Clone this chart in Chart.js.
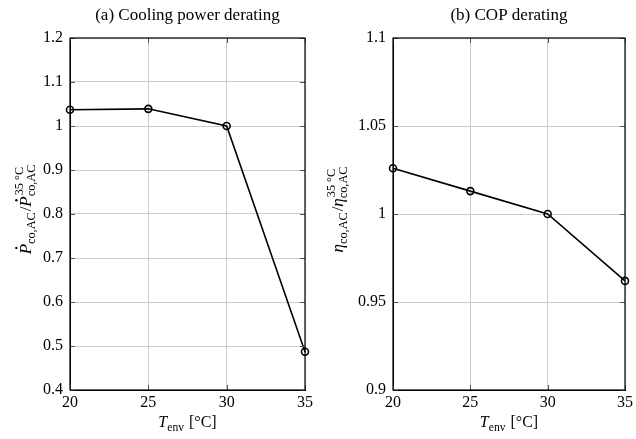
<!DOCTYPE html>
<html>
<head>
<meta charset="utf-8">
<script src="https://cdn.jsdelivr.net/npm/chart.js@4"></script>
<style>
body{margin:0;background:#fff;}
.wrap{position:absolute;top:0;width:318px;height:439px;}
</style>
</head>
<body>
<div class="wrap" style="left:0"><canvas id="powerChart" width="318" height="439"></canvas></div>
<div class="wrap" style="left:318px"><canvas id="copChart" width="318" height="439"></canvas></div>
<script>
// ambient temperature steps
const tempC = [20, 25, 30, 35];
// cooling power relative to 35 °C reference
const coolingPowerRatio = [1.037, 1.039, 1.0, 0.487];
// COP relative to 35 °C reference
const copRatio = [1.026, 1.013, 1.0, 0.962];

const xTicks = [20, 25, 30, 35];
const yTicksPower = [0.4, 0.5, 0.6, 0.7, 0.8, 0.9, 1.0, 1.1, 1.2];
const yTicksCop = [0.9, 0.95, 1.0, 1.05, 1.1];

const FONT = "'Liberation Serif', 'DejaVu Serif', serif";

// draw a run of text pieces: {t, i, dot} or {sub, sup}
function richWidth(ctx, parts, size) {
  let w = 0;
  parts.forEach(p => {
    if (p.t !== undefined) {
      ctx.font = (p.i ? "italic " : "") + size + "px " + FONT;
      w += ctx.measureText(p.t).width;
    } else {
      ctx.font = (size * 0.72) + "px " + FONT;
      const a = p.sub ? ctx.measureText(p.sub).width : 0;
      const b = p.sup ? ctx.measureText(p.sup).width : 0;
      w += Math.max(a, b) + 1;
    }
  });
  return w;
}

function drawRich(ctx, parts, cx, baseY, size) {
  let x = cx - richWidth(ctx, parts, size) / 2;
  ctx.fillStyle = "#000";
  ctx.textBaseline = "alphabetic";
  ctx.textAlign = "left";
  parts.forEach(p => {
    if (p.t !== undefined) {
      ctx.font = (p.i ? "italic " : "") + size + "px " + FONT;
      const w = ctx.measureText(p.t).width;
      ctx.fillText(p.t, x, baseY);
      if (p.dot) {
        ctx.beginPath();
        ctx.arc(x + w * 0.62, baseY - size * 0.86, size * 0.07, 0, Math.PI * 2);
        ctx.fill();
      }
      x += w;
    } else {
      const s = size * 0.72;
      ctx.font = s + "px " + FONT;
      const a = p.sub ? ctx.measureText(p.sub).width : 0;
      const b = p.sup ? ctx.measureText(p.sup).width : 0;
      if (p.sub) ctx.fillText(p.sub, x, baseY + size * 0.25);
      if (p.sup) ctx.fillText(p.sup, x + 1, baseY - size * 0.45);
      x += Math.max(a, b) + 1;
    }
  });
}

const frame = {
  id: "frame",
  afterDraw(chart, args, opts) {
    const ctx = chart.ctx;
    const a = chart.chartArea;
    ctx.save();
    // inward tick marks on all four sides
    ctx.strokeStyle = "#555";
    ctx.lineWidth = 1;
    chart.scales.y.ticks.forEach(t => {
      const y = Math.round(chart.scales.y.getPixelForValue(t.value)) + 0.5;
      ctx.beginPath();
      ctx.moveTo(a.left, y); ctx.lineTo(a.left + 5, y);
      ctx.moveTo(a.right, y); ctx.lineTo(a.right - 5, y);
      ctx.stroke();
    });
    chart.scales.x.ticks.forEach(t => {
      const x = Math.round(chart.scales.x.getPixelForValue(t.value)) + 0.5;
      ctx.beginPath();
      ctx.moveTo(x, a.bottom); ctx.lineTo(x, a.bottom - 5);
      ctx.moveTo(x, a.top); ctx.lineTo(x, a.top + 5);
      ctx.stroke();
    });
    ctx.strokeStyle = "#000";
    ctx.lineWidth = 1.2;
    ctx.strokeRect(a.left, a.top, a.right - a.left, a.bottom - a.top);
    // title and axis labels
    const cx = (a.left + a.right) / 2;
    ctx.font = "17px " + FONT;
    ctx.fillStyle = "#000";
    ctx.textAlign = "center";
    ctx.textBaseline = "alphabetic";
    ctx.fillText(opts.title, cx, 20);
    drawRich(ctx, [{t: "T", i: true}, {sub: "env"}, {t: " [°C]"}], cx, 427, 16);
    ctx.translate(opts.yLabelX, (a.top + a.bottom) / 2 - 5);
    ctx.rotate(-Math.PI / 2);
    drawRich(ctx, opts.yLabel, 0, 0, 17);
    ctx.restore();
  }
};

function fmt(v) {
  return String(Number(v.toFixed(2)));
}

function makeChart(id, values, yTicks, yMin, yMax, axisW, padRight, title, yLabel, yLabelX) {
  return new Chart(document.getElementById(id), {
    type: "line",
    data: {
      datasets: [{
        data: tempC.map((t, i) => ({x: t, y: values[i]})),
        borderColor: "#000",
        borderWidth: 1.6,
        tension: 0,
        pointRadius: 3.5,
        pointBorderWidth: 1.6,
        pointBorderColor: "#000",
        pointBackgroundColor: "rgba(0,0,0,0)",
        clip: false
      }]
    },
    options: {
      responsive: false,
      animation: false,
      layout: {padding: {top: 38, right: padRight, left: 0, bottom: 0}},
      plugins: {
        legend: {display: false},
        tooltip: {enabled: false},
        frame: {title: title, yLabel: yLabel, yLabelX: yLabelX}
      },
      scales: {
        x: {
          type: "linear",
          min: 20, max: 35,
          afterBuildTicks: s => { s.ticks = xTicks.map(v => ({value: v})); },
          afterFit: s => { s.height = 49; },
          ticks: {color: "#000", font: {family: FONT, size: 16}, padding: 3, callback: v => fmt(v)},
          grid: {color: "#cccccc", drawTicks: false},
          border: {color: "#000"}
        },
        y: {
          min: yMin, max: yMax,
          afterBuildTicks: s => { s.ticks = yTicks.map(v => ({value: v})); },
          afterFit: s => { s.width = axisW; },
          ticks: {color: "#000", font: {family: FONT, size: 16}, padding: 7, callback: v => fmt(v)},
          grid: {color: "#cccccc", drawTicks: false},
          border: {color: "#000"}
        }
      }
    },
    plugins: [frame]
  });
}

const dotP = {t: "P", i: true, dot: true};
const eta = {t: "η", i: true};

makeChart("powerChart", coolingPowerRatio, yTicksPower, 0.4, 1.2, 70, 13,
  "(a) Cooling power derating",
  [dotP, {sub: "co,AC"}, {t: "/"}, dotP, {sup: "35 °C", sub: "co,AC"}], 31);

makeChart("copChart", copRatio, yTicksCop, 0.9, 1.1, 75, 8,
  "(b) COP derating",
  [eta, {sub: "co,AC"}, {t: "/"}, eta, {sup: "35 °C", sub: "co,AC"}], 25);
</script>
</body>
</html>
